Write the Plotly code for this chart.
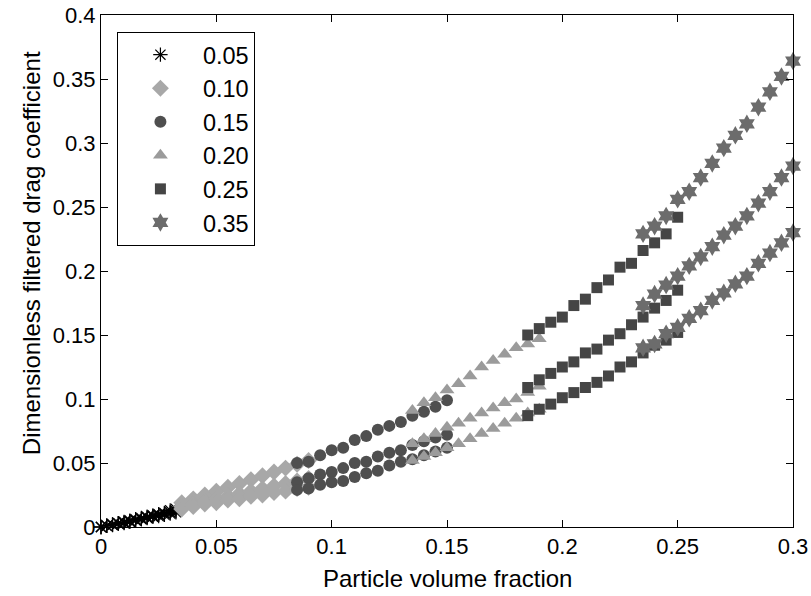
import plotly.graph_objects as go

# ---------------- data ----------------
series_names = ["0.05", "0.10", "0.15", "0.20", "0.25", "0.35"]

x_005 = [0.000, 0.0025, 0.005, 0.0075, 0.010, 0.0125, 0.015, 0.0175, 0.020, 0.0225, 0.025, 0.0275, 0.030, 0.0325]
y_005_upper = [0.000, 0.001, 0.002, 0.003, 0.004, 0.005, 0.006, 0.007, 0.008, 0.009, 0.010, 0.011, 0.013, 0.014]
y_005_middle = [0.000, 0.001, 0.002, 0.003, 0.0035, 0.0045, 0.0055, 0.0065, 0.0075, 0.0085, 0.0095, 0.0105, 0.0115, 0.0125]
y_005_lower = [0.000, 0.001, 0.0015, 0.0025, 0.003, 0.004, 0.005, 0.006, 0.007, 0.008, 0.0085, 0.0095, 0.0105, 0.0115]

x_010 = [0.035, 0.040, 0.045, 0.050, 0.055, 0.060, 0.065, 0.070, 0.075, 0.080, 0.085, 0.090]
y_010_upper = [0.019, 0.022, 0.025, 0.028, 0.031, 0.034, 0.037, 0.040, 0.043, 0.046, 0.049, 0.052]
y_010_middle = [0.016, 0.018, 0.020, 0.022, 0.024, 0.026, 0.028, 0.030, 0.032, 0.034, 0.036, 0.038]
y_010_lower = [0.014, 0.016, 0.018, 0.019, 0.021, 0.022, 0.024, 0.025, 0.027, 0.028, 0.030, 0.031]

x_015 = [0.085, 0.090, 0.095, 0.100, 0.105, 0.110, 0.115, 0.120, 0.125, 0.130, 0.135, 0.140, 0.145, 0.150]
y_015_upper = [0.050, 0.051, 0.056, 0.060, 0.062, 0.068, 0.071, 0.076, 0.079, 0.082, 0.087, 0.090, 0.094, 0.099]
y_015_middle = [0.035, 0.038, 0.041, 0.043, 0.046, 0.050, 0.051, 0.055, 0.058, 0.060, 0.064, 0.067, 0.070, 0.072]
y_015_lower = [0.029, 0.030, 0.033, 0.035, 0.036, 0.039, 0.042, 0.044, 0.048, 0.051, 0.053, 0.056, 0.059, 0.062]

x_020 = [0.135, 0.140, 0.145, 0.150, 0.155, 0.160, 0.165, 0.170, 0.175, 0.180, 0.185, 0.190]
y_020_upper = [0.091, 0.097, 0.101, 0.107, 0.112, 0.118, 0.125, 0.130, 0.135, 0.140, 0.143, 0.147]
y_020_middle = [0.065, 0.069, 0.073, 0.078, 0.081, 0.085, 0.089, 0.093, 0.097, 0.100, 0.105, 0.110]
y_020_lower = [0.052, 0.055, 0.058, 0.062, 0.065, 0.069, 0.073, 0.077, 0.081, 0.085, 0.089, 0.092]

x_025 = [0.185, 0.190, 0.195, 0.200, 0.205, 0.210, 0.215, 0.220, 0.225, 0.230, 0.235, 0.240, 0.245, 0.250]
y_025_upper = [0.150, 0.155, 0.160, 0.164, 0.173, 0.178, 0.187, 0.193, 0.203, 0.206, 0.216, 0.222, 0.229, 0.242]
y_025_middle = [0.109, 0.115, 0.120, 0.125, 0.129, 0.136, 0.139, 0.146, 0.151, 0.158, 0.164, 0.171, 0.177, 0.185]
y_025_lower = [0.087, 0.092, 0.096, 0.101, 0.105, 0.109, 0.113, 0.118, 0.125, 0.129, 0.136, 0.142, 0.146, 0.152]

x_035 = [0.235, 0.240, 0.245, 0.250, 0.255, 0.260, 0.265, 0.270, 0.275, 0.280, 0.285, 0.290, 0.295, 0.300]
y_035_upper = [0.229, 0.235, 0.243, 0.256, 0.262, 0.273, 0.284, 0.296, 0.306, 0.315, 0.328, 0.340, 0.352, 0.364]
y_035_middle = [0.173, 0.182, 0.189, 0.196, 0.204, 0.211, 0.219, 0.228, 0.235, 0.243, 0.253, 0.262, 0.273, 0.282]
y_035_lower = [0.140, 0.143, 0.151, 0.156, 0.163, 0.169, 0.177, 0.183, 0.190, 0.196, 0.206, 0.214, 0.222, 0.230]

x_ticks = [0, 0.05, 0.1, 0.15, 0.2, 0.25, 0.3]
x_tick_labels = ["0", "0.05", "0.1", "0.15", "0.2", "0.25", "0.3"]
y_ticks = [0, 0.05, 0.1, 0.15, 0.2, 0.25, 0.3, 0.35, 0.4]
y_tick_labels = ["0", "0.05", "0.1", "0.15", "0.2", "0.25", "0.3", "0.35", "0.4"]

# ---------------- figure ----------------
FONT = "Liberation Sans, Arial, Helvetica, sans-serif"

groups = [
    (x_005, [y_005_upper, y_005_middle, y_005_lower]),
    (x_010, [y_010_upper, y_010_middle, y_010_lower]),
    (x_015, [y_015_upper, y_015_middle, y_015_lower]),
    (x_020, [y_020_upper, y_020_middle, y_020_lower]),
    (x_025, [y_025_upper, y_025_middle, y_025_lower]),
    (x_035, [y_035_upper, y_035_middle, y_035_lower]),
]
styles = [
    dict(symbol="asterisk-open", size=12, color="#000000", line=dict(color="#000000", width=1.2)),
    dict(symbol="diamond", size=13, color="#a8a8a8", line=dict(width=0)),
    dict(symbol="circle", size=12, color="#4f4f4f", line=dict(width=0)),
    dict(symbol="triangle-up", size=13, color="#9b9b9b", line=dict(width=0)),
    dict(symbol="square", size=11, color="#454545", line=dict(width=0)),
    dict(symbol="hexagram", size=14, color="#6c6c6c", line=dict(width=0)),
]

fig = go.Figure()
for name, (xs, ys_list), st in zip(series_names, groups, styles):
    xx, yy = [], []
    for ys in ys_list:
        xx += xs
        yy += ys
    fig.add_trace(go.Scatter(x=xx, y=yy, mode="markers", name=name,
                             marker=st, cliponaxis=False))

axis_common = dict(
    showline=True, linecolor="black", linewidth=1, mirror="allticks",
    ticks="inside", ticklen=7, tickcolor="black", tickwidth=1,
    showgrid=False, zeroline=False, automargin=False,
    ticklabeloverflow="allow",
    tickfont=dict(family=FONT, size=22, color="black"),
)
fig.update_xaxes(range=[0, 0.3], tickvals=x_ticks, ticktext=x_tick_labels, **axis_common)
fig.update_yaxes(range=[0, 0.4], tickvals=y_ticks, ticktext=y_tick_labels, **axis_common)

fig.update_layout(
    width=811, height=596,
    margin=dict(l=101, r=18, t=15, b=69, autoexpand=False),
    paper_bgcolor="white", plot_bgcolor="white",
    font=dict(family=FONT, size=22, color="black"),
    showlegend=True,
    hovermode=False,
    legend=dict(
        x=0.023, y=0.967, xanchor="left", yanchor="top",
        bgcolor="white", bordercolor="black", borderwidth=1,
        font=dict(family=FONT, size=23.5, color="black"),
        itemwidth=75, tracegroupgap=0,
    ),
    annotations=[
        dict(text="Particle volume fraction", x=0.5, y=-0.07, xref="paper", yref="paper",
             xanchor="center", yanchor="top", showarrow=False,
             font=dict(family=FONT, size=24, color="black")),
        dict(text="Dimensionless filtered drag coefficient", x=-0.101, y=0.535,
             xref="paper", yref="paper", xanchor="center", yanchor="middle",
             textangle=-90, showarrow=False,
             font=dict(family=FONT, size=24, color="black")),
    ],
)

# remove the page's default body margin so the figure sits at the window's top-left
fig.write_html("out.html",
               config={"displayModeBar": False},
               post_script="document.body.style.margin='0px'; document.body.style.overflow='hidden';")
